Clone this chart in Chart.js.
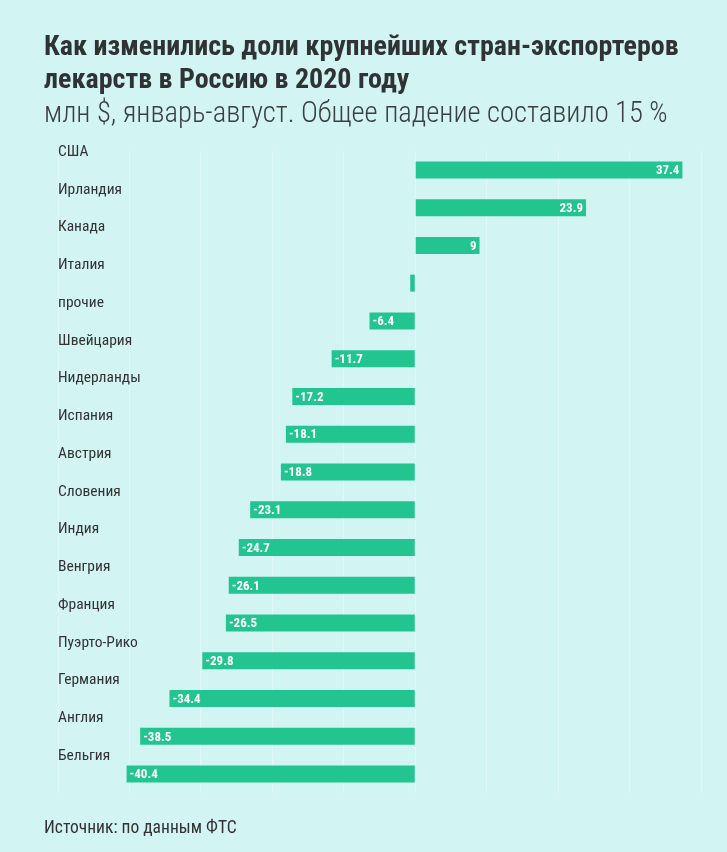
<!DOCTYPE html>
<html><head><meta charset="utf-8">
<script src="https://cdn.jsdelivr.net/npm/chart.js@4.4.0/dist/chart.umd.min.js"></script>
<style>
html,body{margin:0;padding:0;background:#d2f4f2;}
#wrap{position:relative;width:727px;height:852px;overflow:hidden;}
#c{position:absolute;left:0;top:0;}
.t{position:absolute;left:44px;color:#2f3333;font-family:"Roboto Condensed","Liberation Sans Narrow","DejaVu Sans Condensed",Roboto,sans-serif;white-space:nowrap;}
#title{top:29px;font-size:28px;font-weight:bold;line-height:33px;}
#sub{top:95px;font-size:28.6px;font-weight:300;color:#3a3f3f;}
#src{top:817px;font-size:17.5px;color:#333;}
</style></head>
<body><div id="wrap">
<canvas id="c" width="727" height="852"></canvas>
<div class="t" id="title">Как изменились доли крупнейших стран-экспортеров<br>лекарств в Россию в 2020 году</div>
<div class="t" id="sub">млн $, январь-август. Общее падение составило 15 %</div>
<div class="t" id="src">Источник: по данным ФТС</div>
</div>
<script>
const countries=['США','Ирландия','Канада','Италия','прочие','Швейцария','Нидерланды','Испания','Австрия','Словения','Индия','Венгрия','Франция','Пуэрто-Рико','Германия','Англия','Бельгия'];
const changes=[37.4,23.9,9,-0.7,-6.4,-11.7,-17.2,-18.1,-18.8,-23.1,-24.7,-26.1,-26.5,-29.8,-34.4,-38.5,-40.4];
const FONT='"Roboto Condensed","Liberation Sans Narrow","DejaVu Sans Condensed",Roboto,sans-serif';

const labelsPlugin={id:'labels',
  afterDatasetsDraw(chart){
    const ctx=chart.ctx, meta=chart.getDatasetMeta(0), area=chart.chartArea;
    ctx.save();
    meta.data.forEach((bar,i)=>{
      ctx.textBaseline='middle';
      ctx.fillStyle='#333';ctx.textAlign='left';
      ctx.font='15.5px '+FONT;
      ctx.fillText(countries[i],area.left,bar.y-18);
      const v=changes[i];
      if(Math.abs(v)<2) return;
      ctx.fillStyle='#fff';ctx.font='bold 13px '+FONT;
      if(v>0){ctx.textAlign='right';ctx.fillText(String(v),bar.x-3,bar.y+1);}
      else{ctx.textAlign='left';ctx.fillText(String(v),bar.x+3,bar.y+1);}
    });
    ctx.restore();
  }};

new Chart(document.getElementById('c'),{
  type:'bar',
  data:{labels:countries,datasets:[{data:changes,backgroundColor:'#22c48f',barPercentage:0.9,categoryPercentage:0.5,borderWidth:0}]},
  options:{indexAxis:'y',responsive:false,animation:false,
    layout:{padding:{left:58,right:26,top:151,bottom:59}},
    plugins:{legend:{display:false},tooltip:{enabled:false}},
    scales:{
      x:{min:-50,max:40,ticks:{display:false,stepSize:10},grid:{color:'rgba(255,255,255,0.35)',drawTicks:false},border:{display:false}},
      y:{display:false}
    }},
  plugins:[labelsPlugin]
});
</script>
</body></html>
